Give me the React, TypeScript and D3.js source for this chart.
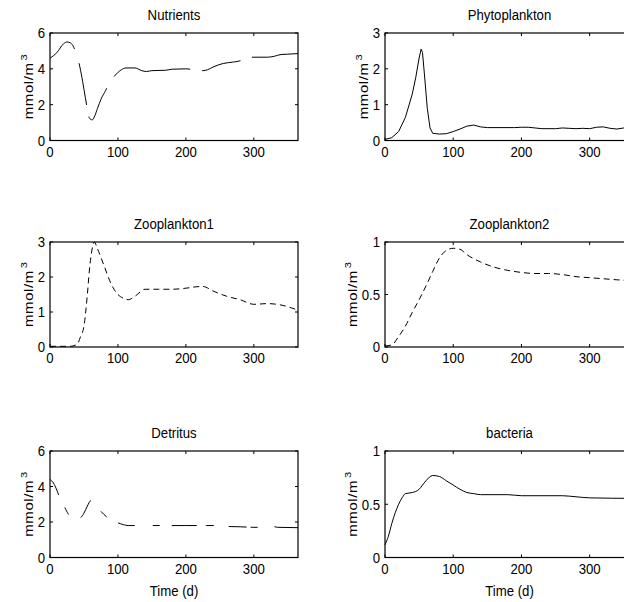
import React from 'react';
import * as d3 from 'd3';

// days 0..365, values in mmol/m^3
const xTicks = [0, 100, 200, 300];
const titles = ['Nutrients', 'Phytoplankton', 'Zooplankton1', 'Zooplankton2', 'Detritus', 'bacteria'];
const yTickSets = [[0, 2, 4, 6], [0, 1, 2, 3], [0, 1, 2, 3], [0, 0.5, 1], [0, 2, 4, 6], [0, 0.5, 1]];

const nutrients = [
  [0, 4.6], [10, 4.9], [20, 5.4], [25, 5.5], [30, 5.45], [35, 5.2], [38, 4.9], [44, 4.1], [48, 3.3],
  [52, 2.4], [55, 1.75], [58, 1.25], [62, 1.15], [65, 1.3], [70, 1.8], [75, 2.3], [82, 2.8], [87, 3.2],
  [95, 3.6], [100, 3.8], [105, 3.95], [112, 4.05], [125, 4.05], [135, 3.9], [142, 3.85], [150, 3.9],
  [170, 3.92], [180, 3.98], [200, 4.0], [210, 3.95], [215, 3.9], [225, 3.9], [232, 3.95], [240, 4.1],
  [255, 4.3], [270, 4.38], [280, 4.45], [288, 4.6], [300, 4.65], [320, 4.65], [330, 4.7], [340, 4.8],
  [350, 4.82], [365, 4.85],
];

const phytoplankton = [
  [0, 0.03], [10, 0.08], [20, 0.25], [30, 0.65], [40, 1.3], [45, 1.75], [50, 2.3], [53, 2.55], [55, 2.45],
  [58, 1.8], [62, 0.9], [66, 0.35], [70, 0.2], [80, 0.18], [90, 0.19], [100, 0.25], [110, 0.32], [120, 0.4],
  [130, 0.43], [140, 0.38], [150, 0.36], [170, 0.36], [190, 0.36], [200, 0.37], [210, 0.37], [220, 0.35],
  [230, 0.33], [250, 0.33], [260, 0.35], [270, 0.34], [280, 0.33], [290, 0.34], [300, 0.33], [310, 0.37],
  [320, 0.38], [330, 0.34], [340, 0.32], [350, 0.35], [365, 0.36],
];

const zooplankton1 = [
  [0, 0.02], [30, 0.02], [40, 0.08], [45, 0.3], [50, 0.6], [55, 1.5], [58, 2.2], [62, 2.8], [65, 3.0],
  [70, 2.8], [80, 2.3], [90, 1.8], [100, 1.5], [110, 1.38], [115, 1.35], [125, 1.45], [140, 1.65],
  [160, 1.65], [180, 1.65], [200, 1.68], [215, 1.72], [225, 1.73], [240, 1.6], [260, 1.45], [280, 1.35],
  [300, 1.22], [320, 1.24], [340, 1.2], [355, 1.12], [365, 1.05],
];

const zooplankton2 = [
  [0, 0.01], [10, 0.02], [20, 0.1], [30, 0.2], [40, 0.33], [50, 0.45], [60, 0.58], [70, 0.72], [80, 0.85],
  [90, 0.92], [100, 0.94], [110, 0.93], [120, 0.88], [140, 0.81], [160, 0.76], [180, 0.73], [200, 0.71],
  [220, 0.7], [240, 0.7], [260, 0.69], [280, 0.67], [300, 0.66], [320, 0.65], [340, 0.64], [365, 0.63],
];

const detritus = [
  [0, 4.4], [5, 4.2], [10, 3.8], [13, 3.5], [18, 3.1], [22, 2.8], [27, 2.45], [33, 2.3], [40, 2.2],
  [45, 2.25], [50, 2.5], [55, 2.9], [60, 3.2], [65, 3.1], [70, 2.85], [75, 2.6], [83, 2.3], [90, 2.1],
  [100, 1.95], [108, 1.85], [115, 1.8], [150, 1.8], [200, 1.8], [230, 1.8], [255, 1.8], [260, 1.75],
  [280, 1.73], [300, 1.7], [320, 1.7], [328, 1.75], [335, 1.7], [365, 1.68],
];

const bacteria = [
  [0, 0.12], [5, 0.2], [10, 0.32], [15, 0.42], [20, 0.5], [25, 0.56], [30, 0.6], [40, 0.61], [50, 0.64],
  [55, 0.68], [60, 0.72], [70, 0.77], [80, 0.76], [90, 0.72], [100, 0.68], [110, 0.64], [120, 0.61],
  [130, 0.6], [140, 0.59], [180, 0.59], [200, 0.58], [260, 0.58], [280, 0.57], [300, 0.56], [365, 0.555],
];

const series = [nutrients, phytoplankton, zooplankton1, zooplankton2, detritus, bacteria];
const dashes = [
  '35,15,42,12,40,14,80,12,40,12,60',
  null,
  '6,4',
  '6,4',
  '18,14,8,13,20,15,8,13,17,18,7,12,25,9,8,15,18,4,7,17,31',
  null,
];

const colLeft = [50, 385];
const colW = [248, 249];
const rowTop = [33, 242, 451];
const rowH = [107.5, 105, 106.5];
const FONT = '"Liberation Sans", Arial, Helvetica, sans-serif';
const SQ = 0.88; // text is a bit condensed in the source

const T = ({ x, y, anchor = 'middle', size = 15, rot = false, children }: any) => (
  <text
    transform={rot ? `translate(${x},${y}) rotate(-90) scale(1,${SQ})` : `translate(${x},${y}) scale(${SQ},1)`}
    textAnchor={anchor}
    fontSize={size}
    fontFamily={FONT}
    fill="#000"
  >
    {children}
  </text>
);

const Panel = ({ i }: { i: number }) => {
  const col = i % 2;
  const row = Math.floor(i / 2);
  const left = colLeft[col];
  const right = left + colW[col];
  const top = rowTop[row];
  const bottom = top + rowH[row];
  const yTicks = yTickSets[i];
  const x = d3.scaleLinear().domain([0, 365]).range([left, right]);
  const y = d3.scaleLinear().domain([0, yTicks[yTicks.length - 1]]).range([bottom, top]);
  const line = d3.line<number[]>()
    .x(d => x(d[0]))
    .y(d => y(d[1]))
    .curve(i === 1 ? d3.curveLinear : d3.curveMonotoneX);
  const tl = 3;
  const wideTicks = yTicks.some(t => t % 1 !== 0);
  const labelX = left - (wideTicks ? 28 : 17);
  return (
    <g>
      <path d={line(series[i] as number[][]) || ''} fill="none" stroke="#000" strokeWidth={1}
        strokeDasharray={dashes[i] || undefined} />
      {xTicks.map(t => (
        <g key={'x' + t}>
          <line x1={x(t)} x2={x(t)} y1={bottom} y2={bottom - tl} stroke="#000" />
          <line x1={x(t)} x2={x(t)} y1={top} y2={top + tl} stroke="#000" />
          <T x={x(t)} y={bottom + 16}>{t}</T>
        </g>
      ))}
      {yTicks.map(t => (
        <g key={'y' + t}>
          <line x1={left} x2={left + tl} y1={y(t)} y2={y(t)} stroke="#000" />
          <line x1={right} x2={right - tl} y1={y(t)} y2={y(t)} stroke="#000" />
          <T x={left - 5} y={y(t) + 5.3} anchor="end">{t}</T>
        </g>
      ))}
      <rect x={left} y={top} width={right - left} height={bottom - top} fill="none" stroke="#000" strokeWidth={1.2} />
      <T x={(left + right) / 2} y={top - 13}>{titles[i]}</T>
      <T x={labelX} y={(top + bottom) / 2} rot>
        <tspan letterSpacing={0.6}>mmol/m</tspan>
        <tspan fontSize={11} dy={-7} dx={2}>3</tspan>
      </T>
      {row === 2 && <T x={(left + right) / 2} y={bottom + 38}>Time (d)</T>}
    </g>
  );
};

export default function App() {
  return (
    <svg width={624} height={602} style={{ position: 'absolute', left: 0, top: 0, background: '#fff' }}>
      {series.map((_, i) => <Panel key={i} i={i} />)}
    </svg>
  );
}
